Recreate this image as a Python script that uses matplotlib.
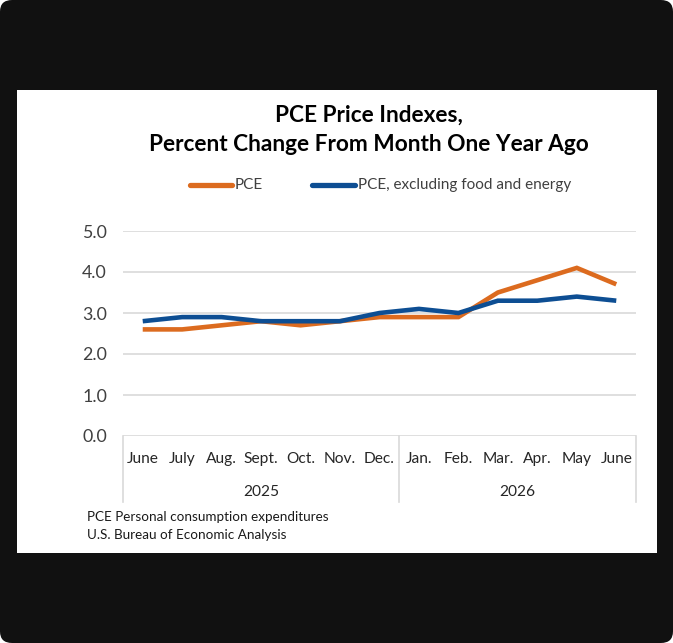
import matplotlib
matplotlib.use("Agg")
import matplotlib.pyplot as plt
from matplotlib.patches import FancyBboxPatch, Rectangle
from matplotlib.lines import Line2D

plt.rcParams['font.family'] = ['Lato', 'DejaVu Sans']

months = ["June", "July", "Aug.", "Sept.", "Oct.", "Nov.", "Dec.",
          "Jan.", "Feb.", "Mar.", "Apr.", "May", "June"]
years = ["2025", "2026"]
year_spans = [(0, 6), (7, 12)]
pce = [2.6, 2.6, 2.7, 2.8, 2.7, 2.8, 2.9, 2.9, 2.9, 3.5, 3.8, 4.1, 3.7]
core = [2.8, 2.9, 2.9, 2.8, 2.8, 2.8, 3.0, 3.1, 3.0, 3.3, 3.3, 3.4, 3.3]
yticks = [0, 1, 2, 3, 4, 5]
series_names = ["PCE", "PCE, excluding food and energy"]
title = "PCE Price Indexes,\nPercent Change From Month One Year Ago"
notes = ["PCE Personal consumption expenditures", "U.S. Bureau of Economic Analysis"]

W, H = 673, 643
fig = plt.figure(figsize=(W / 100, H / 100), dpi=100)
fig.patch.set_facecolor("white")

def fx(px):
    return px / W

def fy(py):
    return 1 - py / H

# dark rounded background
bg = FancyBboxPatch((0, 0), 1, 1, boxstyle="round,pad=0,rounding_size=0.018",
                    transform=fig.transFigure, facecolor="#111111", edgecolor="none", zorder=0)
fig.patches.append(bg)
panel = Rectangle((fx(17), fy(553)), fx(657) - fx(17), fy(90) - fy(553),
                  transform=fig.transFigure, facecolor="white", edgecolor="none", zorder=1)
fig.patches.append(panel)

ORANGE = "#DC6B1F"
BLUE = "#0D4E93"
GRID = "#D9D9D9"
TXT = "#404040"

ax = fig.add_axes([fx(123), fy(436), fx(636) - fx(123), fy(231) - fy(436)])
ax.set_facecolor("none")
ax.set_zorder(2)
x = list(range(len(months)))
ax.plot(x, pce, color=ORANGE, lw=3.3, solid_capstyle="butt", solid_joinstyle="miter", zorder=3)
ax.plot(x, core, color=BLUE, lw=3.3, solid_capstyle="butt", solid_joinstyle="miter", zorder=4)
ax.set_xlim(-0.5, len(months) - 0.5)
ax.set_ylim(0, 5)
ax.set_yticks(yticks)
ax.set_yticklabels([f"{v:.1f}" for v in yticks], fontsize=12.8, color=TXT)
ax.tick_params(axis="y", length=0, pad=11.5)
ax.set_xticks([])
for s in ax.spines.values():
    s.set_visible(False)
for v in yticks:
    ax.axhline(v, color=GRID, lw=1.2, zorder=1)

tr = ax.get_xaxis_transform()
box_bottom = (436 - 502) / 205
for xv in [-0.5, 6.5, len(months) - 0.5]:
    ax.plot([xv, xv], [0, box_bottom], transform=tr, color=GRID, lw=1.2, clip_on=False)
for i, m in enumerate(months):
    ax.text(i, (436 - 459) / 205, m, transform=tr, ha="center", va="center",
            fontsize=11.2, color="#262626")
for yr, (a, b) in zip(years, year_spans):
    ax.text((a + b) / 2, (436 - 492) / 205, yr, transform=tr, ha="center", va="center",
            fontsize=11.2, color="#262626")

fig.text(0.5 * (fx(148) + fx(590)), fy(130), title, ha="center", va="center",
         fontsize=16.3, fontweight="bold", color="black", linespacing=1.5, zorder=3)

# legend
for (x0, x1, tx), col, name in zip([(190, 232, 235), (312, 355, 358)], [ORANGE, BLUE], series_names):
    fig.lines.append(Line2D([fx(x0), fx(x1)], [fy(185), fy(185)], transform=fig.transFigure,
                            color=col, lw=3.8, solid_capstyle="round", zorder=3))
    fig.text(fx(tx), fy(185), name, ha="left", va="center", fontsize=11, color=TXT, zorder=3)

fig.text(fx(87), fy(517), notes[0], ha="left", va="center", fontsize=9.7, color="#1a1a1a", zorder=3)
fig.text(fx(87), fy(535), notes[1], ha="left", va="center", fontsize=9.7, color="#1a1a1a", zorder=3)

fig.savefig("out.png", dpi=100, facecolor="white")
